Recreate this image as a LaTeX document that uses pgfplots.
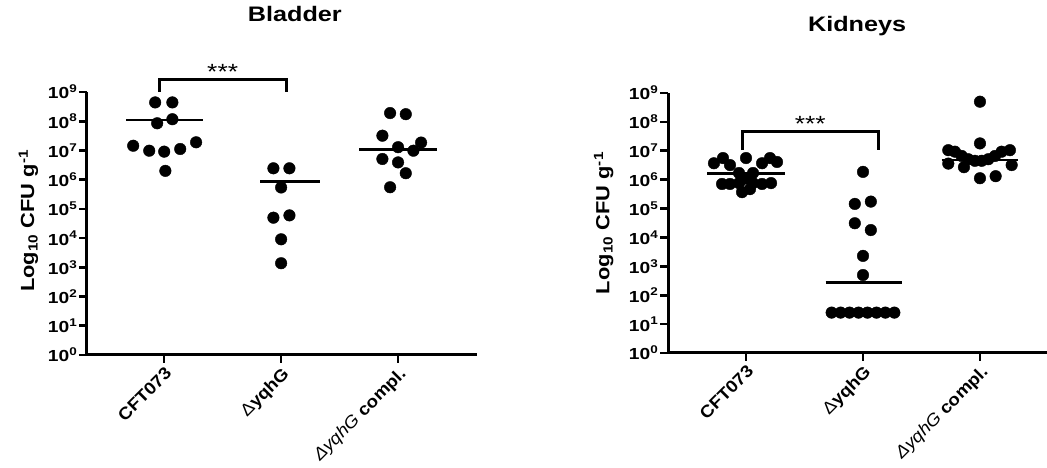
\documentclass[border=0pt]{standalone}
\usepackage{pgfplots}
\pgfplotsset{compat=1.18}
\usepackage{fontspec}
\setmainfont{Liberation Sans}[FakeStretch=1.2]
\newfontfamily\labfont{Liberation Sans}[FakeStretch=1.15]
\newfontfamily\xlabfont{Liberation Sans}[FakeStretch=1.1]

\pgfplotsset{
  cfustyle/.style={
    scale only axis,
    ymin=1, ymax=1e9,
    axis x line*=bottom,
    axis y line*=left,
    axis line style={line width=3pt},
    tick style={line width=2.6pt, black},
    major tick length=8pt,
    tick align=outside,
    xtick={0,1,2},
    xticklabels={\textbf{CFT073}, {Δ\textbf{yqhG}}, {\textit{ΔyqhG} \textbf{compl.}}},
    xticklabel style={rotate=45, anchor=north east, font=\xlabfont\fontsize{17}{19}\selectfont, inner sep=2pt},
    ytick={1,10,100,1000,1e4,1e5,1e6,1e7,1e8,1e9},
    yticklabels={\textbf{10\textsuperscript{0}},\textbf{10\textsuperscript{1}},\textbf{10\textsuperscript{2}},\textbf{10\textsuperscript{3}},\textbf{10\textsuperscript{4}},\textbf{10\textsuperscript{5}},\textbf{10\textsuperscript{6}},\textbf{10\textsuperscript{7}},\textbf{10\textsuperscript{8}},\textbf{10\textsuperscript{9}}},
    yticklabel style={font=\fontsize{16}{18}\selectfont, inner sep=1.5pt},
    ylabel={\textbf{Log\textsubscript{10} CFU g\textsuperscript{-1}}},
    ylabel style={font=\labfont\fontsize{19}{21}\selectfont, anchor=center},
    title style={font=\bfseries\fontsize{21}{24}\selectfont, anchor=base},
    clip=false,
  },
}

\begin{document}
\begin{tikzpicture}[x=1pt,y=1pt]
\path[use as bounding box] (0,0) rectangle (1047,468);

% ---------------- Bladder ----------------
\begin{axis}[ymode=log, log basis y=10, cfustyle,
  at={(87pt,113pt)}, anchor=south west,
  width=390pt, height=263pt,
  xmin=-0.66, xmax=2.675,
  title={Bladder},
  title style={at={(axis description cs:0.533,1.247)}},
  ylabel style={at={(axis description cs:-0.15,0.51)}},
]
\addplot[only marks, mark=*, mark size=5.8pt, black] coordinates {
 (-0.077,4.4e8) (0.07,4.4e8) (-0.06,8.5e7) (0.07,1.17e8) (-0.265,1.45e7)
 (-0.128,9.8e6) (0,9.1e6) (0.137,1.12e7) (0.273,1.9e7) (0.01,2.0e6)
};
\addplot[no marks, line width=2.6pt, black] coordinates {(-0.325,1.1e8) (0.33,1.1e8)};
\addplot[only marks, mark=*, mark size=5.8pt, black] coordinates {
 (0.934,2.45e6) (1.071,2.45e6) (1,5.4e5) (0.934,5.0e4) (1.071,6.0e4) (1,9.1e3) (1,1.38e3)
};
\addplot[no marks, line width=2.6pt, black] coordinates {(0.82,8.7e5) (1.33,8.7e5)};
\addplot[only marks, mark=*, mark size=5.8pt, black] coordinates {
 (1.932,1.9e8) (2.066,1.74e8) (1.866,3.2e7) (2,1.29e7) (2.197,1.86e7)
 (2.131,9.8e6) (1.866,5.1e6) (2,3.9e6) (2.066,1.66e6) (1.932,5.5e5)
};
\addplot[no marks, line width=2.6pt, black] coordinates {(1.67,1.1e7) (2.33,1.1e7)};
\addplot[no marks, line width=3pt, black] coordinates {(-0.04,1e9) (-0.04,2.6e9) (1.05,2.6e9) (1.05,1e9)};
\node[font=\fontsize{22}{24}\selectfont] at (axis cs:0.5,4.9e9) {***};
\end{axis}

% ---------------- Kidneys ----------------
\begin{axis}[ymode=log, log basis y=10, cfustyle,
  at={(668pt,115pt)}, anchor=south west,
  width=379pt, height=260pt,
  xmin=-0.667, xmax=2.573,
  title={Kidneys},
  title style={at={(axis description cs:0.499,1.215)}},
  ylabel style={at={(axis description cs:-0.17,0.50)}},
]
\addplot[only marks, mark=*, mark size=5.8pt, black] coordinates {
 (-0.274,3.7e6) (-0.197,5.6e6) (-0.137,3.2e6) (0,5.6e6) (0.137,3.7e6) (0.205,5.6e6) (0.265,4.1e6)
 (-0.06,1.7e6) (0.06,1.7e6) (-0.026,1.05e6) (0.026,1.05e6)
 (-0.205,7.1e5) (-0.137,7.1e5) (-0.06,7.6e5) (0.06,7.6e5) (0.137,7.1e5) (0.214,7.6e5)
 (-0.034,3.7e5) (0.034,4.7e5)
};
\addplot[no marks, line width=2.6pt, black] coordinates {(-0.333,1.65e6) (0.333,1.65e6)};
\addplot[only marks, mark=*, mark size=5.8pt, black] coordinates {
 (1,1.86e6) (0.93,1.45e5) (1.067,1.74e5) (0.93,3.1e4) (1.067,1.8e4) (1,2.3e3) (1,5.0e2)
 (0.732,25) (0.809,25) (0.885,25) (0.962,25) (1.038,25) (1.115,25) (1.191,25) (1.268,25)
};
\addplot[no marks, line width=2.6pt, black] coordinates {(0.68,280) (1.33,280)};
\addplot[only marks, mark=*, mark size=5.8pt, black] coordinates {
 (2,5.0e8) (2,1.8e7)
 (1.729,1.05e7) (1.786,9.3e6) (1.844,6.6e6) (1.9,5.1e6) (1.957,4.5e6)
 (2.015,4.5e6) (2.071,5.1e6) (2.128,6.6e6) (2.185,9.3e6) (2.256,1.05e7)
 (1.729,3.6e6) (1.863,2.7e6) (2.271,3.2e6) (2,1.12e6) (2.134,1.32e6)
};
\addplot[no marks, line width=2.6pt, black] coordinates {(1.673,4.8e6) (2.327,4.8e6)};
\addplot[no marks, line width=3pt, black] coordinates {(-0.03,1.05e7) (-0.03,4.8e7) (1.13,4.8e7) (1.13,1.05e7)};
\node[font=\fontsize{22}{24}\selectfont] at (axis cs:0.55,8.4e7) {***};
\end{axis}
\end{tikzpicture}
\end{document}
